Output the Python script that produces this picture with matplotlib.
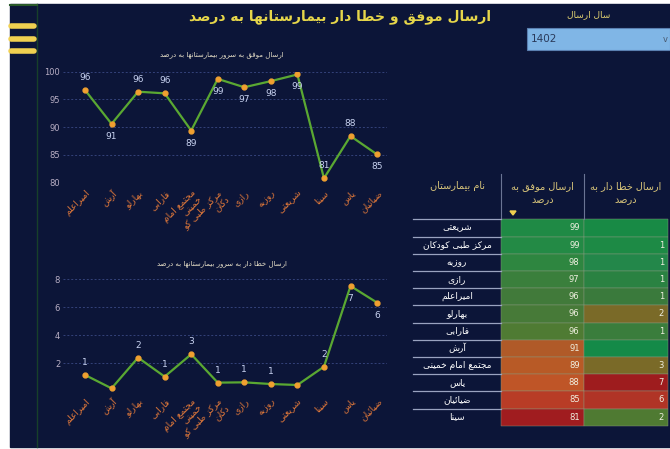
import matplotlib
matplotlib.use("Agg")
import matplotlib.pyplot as plt
from matplotlib.patches import Rectangle, Polygon

# --- persian text: matplotlib has no shaping, so pick presentation forms by hand
# letter: (isolated, final, initial, medial); two entries = joins to the right only
FORMS = {
    'ا': (0xFE8D, 0xFE8E), 'آ': (0xFE81, 0xFE82), 'د': (0xFEA9, 0xFEAA),
    'ذ': (0xFEAB, 0xFEAC), 'ر': (0xFEAD, 0xFEAE), 'ز': (0xFEAF, 0xFEB0),
    'ژ': (0xFB8A, 0xFB8B), 'و': (0xFEED, 0xFEEE),
    'ب': (0xFE8F, 0xFE90, 0xFE91, 0xFE92), 'پ': (0xFB56, 0xFB57, 0xFB58, 0xFB59),
    'ت': (0xFE95, 0xFE96, 0xFE97, 0xFE98), 'ث': (0xFE99, 0xFE9A, 0xFE9B, 0xFE9C),
    'ج': (0xFE9D, 0xFE9E, 0xFE9F, 0xFEA0), 'چ': (0xFB7A, 0xFB7B, 0xFB7C, 0xFB7D),
    'ح': (0xFEA1, 0xFEA2, 0xFEA3, 0xFEA4), 'خ': (0xFEA5, 0xFEA6, 0xFEA7, 0xFEA8),
    'س': (0xFEB1, 0xFEB2, 0xFEB3, 0xFEB4), 'ش': (0xFEB5, 0xFEB6, 0xFEB7, 0xFEB8),
    'ص': (0xFEB9, 0xFEBA, 0xFEBB, 0xFEBC), 'ض': (0xFEBD, 0xFEBE, 0xFEBF, 0xFEC0),
    'ط': (0xFEC1, 0xFEC2, 0xFEC3, 0xFEC4), 'ظ': (0xFEC5, 0xFEC6, 0xFEC7, 0xFEC8),
    'ع': (0xFEC9, 0xFECA, 0xFECB, 0xFECC), 'غ': (0xFECD, 0xFECE, 0xFECF, 0xFED0),
    'ف': (0xFED1, 0xFED2, 0xFED3, 0xFED4), 'ق': (0xFED5, 0xFED6, 0xFED7, 0xFED8),
    'ک': (0xFB8E, 0xFB8F, 0xFB90, 0xFB91), 'گ': (0xFB92, 0xFB93, 0xFB94, 0xFB95),
    'ل': (0xFEDD, 0xFEDE, 0xFEDF, 0xFEE0), 'م': (0xFEE1, 0xFEE2, 0xFEE3, 0xFEE4),
    'ن': (0xFEE5, 0xFEE6, 0xFEE7, 0xFEE8), 'ه': (0xFEE9, 0xFEEA, 0xFEEB, 0xFEEC),
    'ی': (0xFBFC, 0xFBFD, 0xFBFE, 0xFBFF), 'ئ': (0xFE89, 0xFE8A, 0xFE8B, 0xFE8C),
}


def fa(s):
    out = []
    for line in s.split('\n'):
        res = []
        for i, c in enumerate(line):
            if c not in FORMS:
                res.append(c)
                continue
            prev = line[i - 1] if i > 0 else ''
            nxt = line[i + 1] if i + 1 < len(line) else ''
            join_prev = prev in FORMS and len(FORMS[prev]) == 4
            join_next = len(FORMS[c]) == 4 and nxt in FORMS
            f = FORMS[c]
            if join_prev and join_next:
                res.append(chr(f[3]))
            elif join_prev:
                res.append(chr(f[1]))
            elif join_next:
                res.append(chr(f[2]))
            else:
                res.append(chr(f[0]))
        out.append(''.join(res)[::-1])
    return '\n'.join(out)


# --- data
year = '1402'
chart_names = ['امیراعلم', 'آرش', 'بهارلو', 'فارابی', 'مجتمع امام\nخمینی',
               'مرکز طبی کو\nدکان', 'رازی', 'روزبه', 'شریعتی', 'سینا', 'یاس', 'ضیائیان']
ok_vals = [96.7, 90.6, 96.4, 96.1, 89.4, 98.7, 97.2, 98.3, 99.5, 80.8, 88.4, 85.1]
ok_labels = ['96', '91', '96', '96', '89', '99', '97', '98', '99', '81', '88', '85']
ok_above = [True, False, True, True, False, False, False, False, False, True, True, False]
err_vals = [1.15, 0.19, 2.39, 1.03, 2.63, 0.6, 0.62, 0.5, 0.43, 1.74, 7.52, 6.33]
err_labels = ['1', '', '2', '1', '3', '1', '1', '1', '', '2', '7', '6']
err_above = [True, True, True, True, True, True, True, True, True, True, False, False]

tbl_names = ['شریعتی', 'مرکز طبی کودکان', 'روزبه', 'رازی', 'امیراعلم', 'بهارلو',
             'فارابی', 'آرش', 'مجتمع امام خمینی', 'یاس', 'ضیائیان', 'سینا']
tbl_ok = ['99', '99', '98', '97', '96', '96', '96', '91', '89', '88', '85', '81']
tbl_err = ['', '1', '1', '1', '1', '2', '1', '', '3', '7', '6', '2']
ok_colors = ['#1f8a45', '#238a45', '#2e8640', '#3a7f3c', '#417a3a', '#477a38',
             '#4f7b33', '#b05a28', '#b85a26', '#bf5527', '#b83c26', '#a01c1f']
err_colors = ['#188a45', '#1d8a45', '#23874a', '#2a8242', '#3a7a3c', '#7a6a28',
              '#3a7d3c', '#148a48', '#7a6a28', '#9e1c1e', '#b03426', '#4f7a32']

BG = '#0c1538'
GOLD = '#e6d64a'
ORANGE = '#e0783a'
LBL = '#c8d2f0'
TICK = '#b8aec4'

W, H = 670, 449
fig = plt.figure(figsize=(W / 100, H / 100), dpi=100)
fig.patch.set_facecolor('white')

bg = fig.add_axes([0, 0, 1, 1])
bg.set_xlim(0, W)
bg.set_ylim(H, 0)
bg.axis('off')
bg.add_patch(Rectangle((10, 4), 660, 443, color=BG, zorder=0))

# sidebar
bg.plot([37, 37], [4, 447], color='#17402a', lw=1)
bg.plot([10, 37], [5, 5], color='#2a5a2a', lw=1.5)
for yy in (26, 39, 51):
    bg.plot([11, 34], [yy, yy], color='#f0d050', lw=4, solid_capstyle='round')

# title and year picker
bg.text(340, 17, fa('ارسال موفق و خطا دار بیمارستانها به درصد'), color=GOLD,
        fontsize=10, fontweight='bold', ha='center', va='center')
bg.text(589, 15, fa('سال ارسال'), color='#e0d070', fontsize=6.5, ha='center', va='center')
bg.add_patch(Rectangle((527, 28), 143, 22, facecolor='#80b6e6', edgecolor='#5a7fb0', lw=0.8))
bg.text(531, 39.5, year, color='#2a3a5a', fontsize=7.5, ha='left', va='center')
bg.text(665, 39, 'v', color='#4a5a70', fontsize=6, ha='center', va='center')

# chart subtitles
bg.text(222, 55, fa('ارسال موفق به سرور بیمارستانها به درصد'), color='#e8e0c8',
        fontsize=5, ha='center', va='center')
bg.text(222, 264, fa('ارسال خطا دار به سرور بیمارستانها به درصد'), color='#e8e0c8',
        fontsize=5, ha='center', va='center')

x = list(range(len(chart_names)))
x_lo = (63 - 85) / 26.55
x_hi = (387 - 85) / 26.55


def line_chart(rect, vals, labels, above, ylim, ticks, ticklabels, off):
    ax = fig.add_axes(rect)
    ax.patch.set_alpha(0)
    ax.plot(x, vals, color='#5aa832', lw=1.6, zorder=2)
    ax.plot(x, vals, 'o', color='#f0a030', ms=3.5, zorder=3)
    for xi, v, t, up in zip(x, vals, labels, above):
        ax.annotate(t, (xi, v), xytext=(0, off if up else -off), textcoords='offset points',
                    ha='center', va='center', color=LBL, fontsize=6.5)
    ax.set_xlim(x_lo, x_hi)
    ax.set_ylim(*ylim)
    ax.set_yticks(ticks)
    ax.set_yticklabels(ticklabels)
    ax.yaxis.grid(True, ls=(0, (2, 2)), color='#34427a', lw=0.7)
    ax.set_axisbelow(True)
    for s in ax.spines.values():
        s.set_visible(False)
    ax.tick_params(axis='y', length=0, colors=TICK, labelsize=6, pad=2)
    ax.tick_params(axis='x', length=0, pad=4)
    ax.set_xticks(x)
    ax.set_xticklabels([fa(n) for n in chart_names], rotation=45, ha='right',
                       rotation_mode='anchor', color=ORANGE, fontsize=6.5, linespacing=1.0)
    return ax


line_chart([63 / W, 1 - 182.7 / H, 324 / W, 111 / H], ok_vals, ok_labels, ok_above,
           (80, 100), [80, 85, 90, 95, 100], ['80', '85', '90', '95', '100'], 9)
line_chart([63 / W, 1 - 391 / H, 324 / W, 111.7 / H], err_vals, err_labels, err_above,
           (0, 8), [0, 2, 4, 6, 8], ['', '2', '4', '6', '8'], 9)

# table
top = 219.3
rh = 17.2
cx = [413, 501, 583.5, 668]
bg.text((cx[0] + cx[1]) / 2, 186, fa('نام بیمارستان'), color='#d8c47a', fontsize=7,
        ha='center', va='center')
bg.text((cx[1] + cx[2]) / 2, 193, fa('ارسال موفق به\nدرصد'), color='#d8c47a', fontsize=7,
        ha='center', va='center', linespacing=1.5)
bg.text((cx[2] + cx[3]) / 2, 193, fa('ارسال خطا دار به\nدرصد'), color='#d8c47a', fontsize=7,
        ha='center', va='center', linespacing=1.5)
for xx in (cx[1], cx[2]):
    bg.plot([xx, xx], [174, top], color='#6a7494', lw=0.8)
bg.add_patch(Polygon([[510, 211], [516, 211], [513, 215]], color='#f0d050'))
bg.plot([cx[0], cx[1]], [top, top], color='#9aa3c0', lw=0.9)

for i, name in enumerate(tbl_names):
    y0 = top + i * rh
    bg.add_patch(Rectangle((cx[1], y0), cx[2] - cx[1], rh, facecolor=ok_colors[i],
                           edgecolor='#8a9a80', lw=0.3))
    bg.add_patch(Rectangle((cx[2], y0), cx[3] - cx[2], rh, facecolor=err_colors[i],
                           edgecolor='#8a9a80', lw=0.3))
    bg.text((cx[0] + cx[1]) / 2, y0 + rh / 2, fa(name), color='white', fontsize=6.5,
            ha='center', va='center')
    bg.text(cx[2] - 4, y0 + rh / 2, tbl_ok[i], color='#f0f0e0', fontsize=6,
            ha='right', va='center')
    bg.text(cx[3] - 4, y0 + rh / 2, tbl_err[i], color='#f0f0e0', fontsize=6,
            ha='right', va='center')
    if i < len(tbl_names) - 1:
        bg.plot([cx[0], cx[1]], [y0 + rh, y0 + rh], color='#9aa3c0', lw=0.9)

fig.savefig('out.png', dpi=100, facecolor=fig.get_facecolor())
